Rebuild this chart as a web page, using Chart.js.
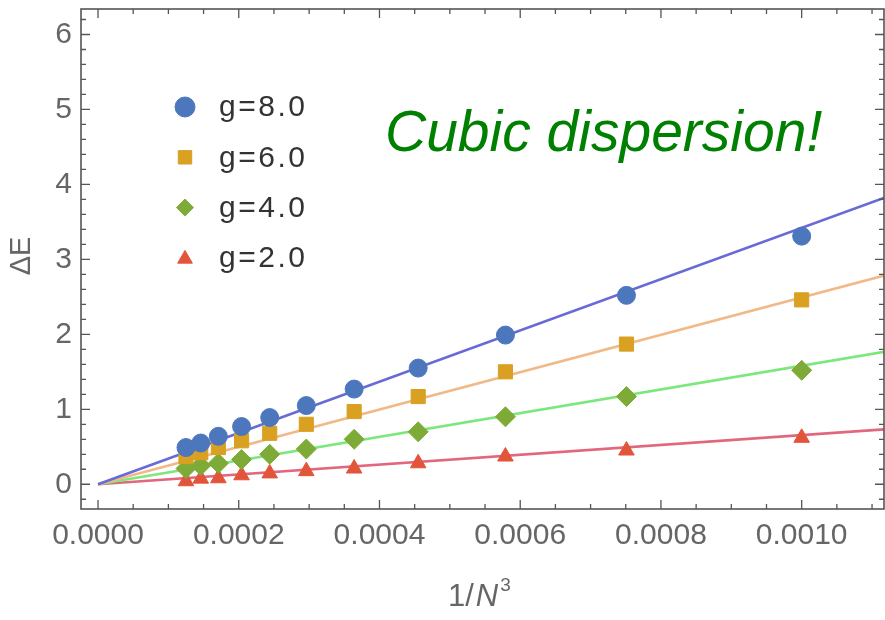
<!DOCTYPE html>
<html><head><meta charset="utf-8">
<script src="https://cdn.jsdelivr.net/npm/chart.js@4/dist/chart.umd.min.js"></script>
<style>html,body{margin:0;padding:0;background:#fff;overflow:hidden;}canvas{display:block;}</style>
</head><body><canvas id="c" width="885" height="620"></canvas>
<script>
// ---- data ----
const invN3 = [0.001, 0.000751, 0.000579, 0.000455, 0.000364, 0.000296, 0.000244, 0.000204, 0.000171, 0.000146, 0.000125];
const g8 = [3.31, 2.52, 1.99, 1.55, 1.27, 1.05, 0.89, 0.77, 0.64, 0.55, 0.49];
const g6 = [2.46, 1.87, 1.50, 1.17, 0.97, 0.80, 0.68, 0.58, 0.49, 0.42, 0.37];
const g4 = [1.52, 1.17, 0.90, 0.70, 0.60, 0.47, 0.40, 0.33, 0.28, 0.25, 0.21];
const g2 = [0.62, 0.45, 0.37, 0.28, 0.21, 0.175, 0.145, 0.12, 0.08, 0.075, 0.04];
const fitX = [0, 0.00112];
const fit8 = [0, 3.83];
const fit6 = [0, 2.79];
const fit4 = [0, 1.77];
const fit2 = [0, 0.735];
const seriesLabels = ['g=8.0', 'g=6.0', 'g=4.0', 'g=2.0'];
const xTicks = [0, 0.0002, 0.0004, 0.0006, 0.0008, 0.0010];
const yTicks = [0, 1, 2, 3, 4, 5, 6];
const annotation = 'Cubic dispersion!';

const pts = (xs, ys) => xs.map((x, i) => ({x: x, y: ys[i]}));
const markerColors = ['#4d77bd', '#d9a022', '#7eab38', '#e2553a'];
const lineColors = ['#6a6ad6', '#f2b988', '#7ce87c', '#e2667c'];
const styles = ['circle', 'rect', 'rectRot', 'triangle'];
const radii = [9, 10, 10, 9];
const series = [g8, g6, g4, g2];
const fits = [fit8, fit6, fit4, fit2];

const datasets = [];
series.forEach((s, i) => {
  datasets.push({
    label: seriesLabels[i], data: pts(invN3, s), showLine: false,
    pointStyle: styles[i], pointRadius: radii[i], pointHoverRadius: radii[i],
    backgroundColor: markerColors[i], borderColor: markerColors[i], pointBorderWidth: 1, order: 0
  });
});
fits.forEach((f, i) => {
  datasets.push({
    label: 'fit ' + seriesLabels[i], data: pts(fitX, f), showLine: true,
    pointRadius: 0, borderColor: lineColors[i], borderWidth: 2.7, order: 1, fill: false
  });
});

const FONT = '"Liberation Sans", Arial, sans-serif';

const decor = {
  id: 'decor',
  afterDraw(chart) {
    const ctx = chart.ctx, a = chart.chartArea;
    const xs = chart.scales.x, ys = chart.scales.y;
    ctx.save();
    // frame
    ctx.strokeStyle = '#555'; ctx.lineWidth = 1.6;
    ctx.strokeRect(a.left, a.top, a.right - a.left, a.bottom - a.top);
    // ticks
    ctx.lineWidth = 1.3;
    ctx.beginPath();
    const xStep = 0.00005;
    for (let i = Math.ceil(xs.min / xStep); i <= Math.floor(xs.max / xStep); i++) {
      const p = xs.getPixelForValue(i * xStep);
      const L = (i % 4 === 0) ? 9 : 5;
      ctx.moveTo(p, a.bottom); ctx.lineTo(p, a.bottom - L);
      ctx.moveTo(p, a.top); ctx.lineTo(p, a.top + L);
    }
    const yStep = 0.2;
    for (let i = Math.ceil(ys.min / yStep - 1e-9); i <= Math.floor(ys.max / yStep + 1e-9); i++) {
      const p = ys.getPixelForValue(i * yStep);
      const L = (i % 5 === 0) ? 9 : 5;
      ctx.moveTo(a.left, p); ctx.lineTo(a.left + L, p);
      ctx.moveTo(a.right, p); ctx.lineTo(a.right - L, p);
    }
    ctx.stroke();

    // legend
    const lx = 185, ly0 = 107, dy = 50.3;
    const lr = [10, 9.5, 8.5, 8.5];
    for (let i = 0; i < 4; i++) {
      const ds = chart.data.datasets[i];
      const y = ly0 + i * dy;
      ctx.fillStyle = ds.backgroundColor; ctx.strokeStyle = ds.borderColor; ctx.lineWidth = 1;
      Chart.helpers.drawPoint(ctx, {pointStyle: ds.pointStyle, radius: lr[i], rotation: 0, borderWidth: 1}, lx, y + (i === 3 ? 1 : 0));
      ctx.fillStyle = '#333';
      ctx.font = '30px ' + FONT;
      ctx.letterSpacing = '2.5px';
      ctx.textAlign = 'left'; ctx.textBaseline = 'middle';
      ctx.fillText(ds.label, 219, y + 1);
      ctx.letterSpacing = '0px';
    }

    // annotation
    ctx.fillStyle = '#008000';
    ctx.font = 'italic 57px ' + FONT;
    ctx.textAlign = 'left'; ctx.textBaseline = 'alphabetic';
    ctx.fillText(annotation, 385, 151);

    // y title
    ctx.fillStyle = '#666';
    ctx.font = '29px ' + FONT;
    ctx.save();
    ctx.translate(22, 256); ctx.rotate(-Math.PI / 2);
    ctx.textAlign = 'center'; ctx.textBaseline = 'middle';
    ctx.fillText('ΔE', 0, 0);
    ctx.restore();

    // x title: 1/N^3
    let x = 448; const base = 606;
    ctx.textAlign = 'left'; ctx.textBaseline = 'alphabetic';
    ctx.font = '31px ' + FONT;
    ctx.fillText('1/', x, base); x += ctx.measureText('1/').width + 2;
    ctx.font = 'italic 31px ' + FONT;
    ctx.fillText('N', x, base); x += ctx.measureText('N').width + 2;
    ctx.font = '19px ' + FONT;
    ctx.fillText('3', x, base - 15);
    ctx.restore();
  }
};

new Chart(document.getElementById('c'), {
  type: 'scatter',
  data: {datasets: datasets},
  options: {
    responsive: false, maintainAspectRatio: false, animation: false, devicePixelRatio: 1,
    layout: {autoPadding: false, padding: {top: 9, right: 1, left: 0, bottom: 0}},
    plugins: {legend: {display: false}, tooltip: {enabled: false}},
    scales: {
      x: {
        type: 'linear', min: -0.0000242, max: 0.001117,
        afterBuildTicks: s => { s.ticks = xTicks.map(v => ({value: v})); },
        afterFit: s => { s.height = 111; s.paddingLeft = 0; s.paddingRight = 0; s.paddingTop = 0; s.paddingBottom = 0; },
        grid: {display: false, drawTicks: false}, border: {display: false},
        ticks: {callback: v => Number(v).toFixed(4), color: '#666', font: {family: FONT, size: 30}, padding: 9, maxRotation: 0, autoSkip: false}
      },
      y: {
        type: 'linear', min: -0.33, max: 6.34,
        afterBuildTicks: s => { s.ticks = yTicks.map(v => ({value: v})); },
        afterFit: s => { s.width = 81; s.paddingLeft = 0; s.paddingRight = 0; s.paddingTop = 0; s.paddingBottom = 0; },
        grid: {display: false, drawTicks: false}, border: {display: false},
        ticks: {callback: v => String(v), color: '#666', font: {family: FONT, size: 30}, padding: 9, autoSkip: false}
      }
    }
  },
  plugins: [decor]
});
</script>
</body></html>
